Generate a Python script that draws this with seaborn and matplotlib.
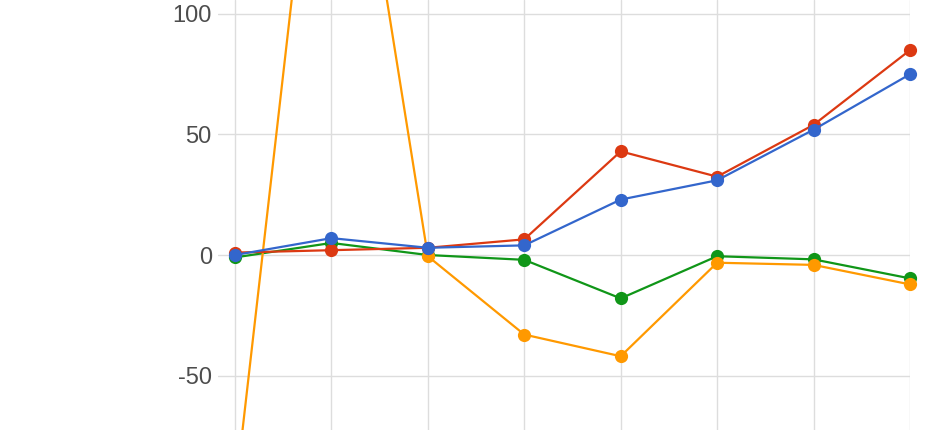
import pandas as pd
import seaborn as sns
import matplotlib.pyplot as plt

sns.set_style("whitegrid")
plt.rcParams["font.family"] = ["Liberation Sans", "DejaVu Sans"]
plt.rcParams["axes.unicode_minus"] = False

# data (8 points per series)
steps = [0, 1, 2, 3, 4, 5, 6, 7]
red_vals = [1, 2, 3, 6.5, 43, 32.5, 54, 85]
blue_vals = [0, 7, 3, 4, 23, 31, 52, 75]
green_vals = [-1, 5, 0, -2, -18, -0.5, -1.8, -9.7]
orange_vals = [-100, 250, -0.5, -33, -42, -3.2, -4.1, -12.2]

series = [("green", green_vals, "#109618"),
          ("orange", orange_vals, "#ff9900"),
          ("red", red_vals, "#dc3912"),
          ("blue", blue_vals, "#3366cc")]

fig = plt.figure(figsize=(9.4, 4.3), dpi=100)
ax = fig.add_axes([218 / 940, 0, 692 / 940, 1])

# 1. lines with round markers, drawn back to front
for name, vals, col in series:
    df = pd.DataFrame({"step": steps, "value": vals})
    sns.lineplot(data=df, x="step", y="value", ax=ax, color=col,
                 marker="o", markersize=9.5, markeredgewidth=0,
                 linewidth=1.6, clip_on=False)

# 2. axes look
ax.set_xlim(-0.176, 7)
ax.set_ylim(-72.6, 105.8)
ax.set_xticks(steps)
ax.set_xticklabels([])
ax.set_yticks([-50, 0, 50, 100])
ax.set_xlabel("")
ax.set_ylabel("")
ax.grid(True, color="#dddddd", linewidth=1.0)
ax.set_axisbelow(True)
for s in ax.spines.values():
    s.set_visible(False)
ax.tick_params(axis="both", length=0)
ax.tick_params(axis="y", labelsize=17, labelcolor="#4d4d4d", pad=4.5)

fig.savefig("out.png", dpi=100)
